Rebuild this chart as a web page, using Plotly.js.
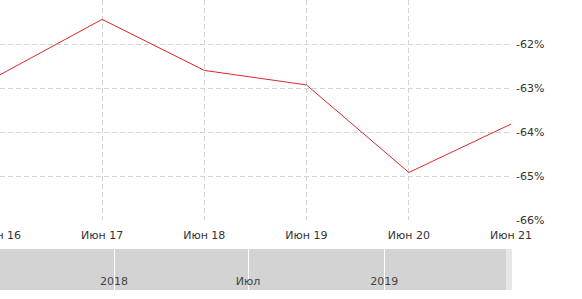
<!DOCTYPE html>
<html>
<head>
<meta charset="utf-8">
<script src="https://cdn.plot.ly/plotly-3.0.1.min.js"></script>
<style>html,body{margin:0;padding:0;background:#fff;}#chart{width:582px;height:299px;}</style>
</head>
<body>
<div id="chart"></div>
<script>
// Main series
const dates = ['2016-06-01','2017-06-01','2018-06-01','2019-06-01','2020-06-01','2021-06-01'];
const values = [-62.70, -61.44, -62.60, -62.93, -64.92, -63.82];
const xTickVals = ['2016-06-01','2017-06-01','2018-06-01','2019-06-01','2020-06-01','2021-06-01'];
const xTickText = ['Июн 16','Июн 17','Июн 18','Июн 19','Июн 20','Июн 21'];
const yTickVals = [-66, -65, -64, -63, -62, -61];
const yTickText = ['-66%', '-65%', '-64%', '-63%', '-62%', ''];
// Navigator
const navRange = ['2017-07-31','2019-06-21'];
const navTickVals = ['2018-01-01','2018-07-01','2019-01-01'];
const navTickText = ['2018','Июл','2019'];

const font = {family: 'DejaVu Sans, Verdana, sans-serif', size: 11, color: '#333'};

const traces = [{
  x: dates, y: values, type: 'scatter', mode: 'lines',
  line: {color: 'rgb(220,40,40)', width: 1},
  xaxis: 'x', yaxis: 'y', hoverinfo: 'none'
}];

const layout = {
  width: 582, height: 299,
  margin: {l: 0, r: 71, t: 0, b: 9},
  paper_bgcolor: '#fff', plot_bgcolor: 'rgba(0,0,0,0)',
  showlegend: false,
  font: font,
  xaxis: {
    type: 'date', range: [dates[0], dates[dates.length-1]],
    domain: [0, 1], anchor: 'y',
    tickmode: 'array', tickvals: xTickVals, ticktext: xTickText,
    showgrid: true, gridcolor: '#d4d4d4', griddash: '5px,3px', gridwidth: 1,
    zeroline: false, showline: false, ticks: '', ticklabelstandoff: 7,
    ticklabeloverflow: 'allow',
    tickfont: font
  },
  yaxis: {
    domain: [0.2414, 1], anchor: 'x', side: 'right',
    range: [-66, -61], tickmode: 'array', tickvals: yTickVals, ticktext: yTickText,
    showgrid: true, gridcolor: '#d4d4d4', griddash: '5px,3px', gridwidth: 1,
    zeroline: false, showline: false, ticks: '', tickfont: font,
    ticklabelstandoff: 4, ticklabeloverflow: 'allow'
  },
  xaxis2: {
    type: 'date', range: navRange, domain: [0, 1], anchor: 'y2',
    tickmode: 'array', tickvals: navTickVals, ticktext: navTickText,
    showgrid: true, gridcolor: '#ffffff', gridwidth: 1,
    zeroline: false, showline: false, ticks: '',
    ticklabelposition: 'inside', tickfont: {family: font.family, size: 11, color: '#444'}
  },
  yaxis2: {
    domain: [0, 0.1414], anchor: 'x2', range: [0, 1],
    showgrid: false, zeroline: false, showticklabels: false, ticks: ''
  },
  shapes: [
    {type: 'rect', xref: 'x2 domain', yref: 'y2 domain', x0: 0, x1: 0.991, y0: 0, y1: 1,
     fillcolor: '#d3d3d3', line: {width: 0}, layer: 'below'},
    {type: 'rect', xref: 'x2 domain', yref: 'y2 domain', x0: 0.991, x1: 1.002, y0: 0, y1: 1,
     fillcolor: '#e6e6e6', line: {width: 0}, layer: 'below'}
  ]
};

// invisible trace so the navigator axes render
traces.push({x: navRange, y: [0, 0], xaxis: 'x2', yaxis: 'y2', mode: 'lines',
  line: {width: 0, color: 'rgba(0,0,0,0)'}, hoverinfo: 'none'});

Plotly.newPlot('chart', traces, layout, {displayModeBar: false, staticPlot: true});
</script>
</body>
</html>
